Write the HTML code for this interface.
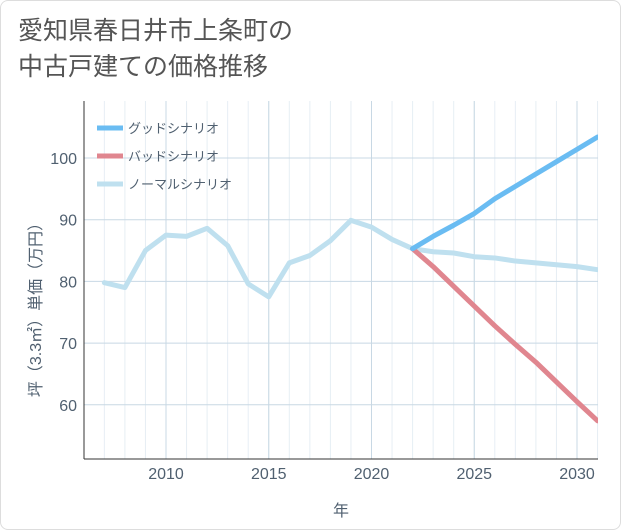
<!DOCTYPE html>
<html><head><meta charset="utf-8"><style>
body{margin:0;background:#fff;}
#wrap{position:relative;width:619px;height:528px;border:1px solid #ddd;border-radius:8px;overflow:hidden;background:#fff;font-family:"Liberation Sans","Noto Sans CJK JP",sans-serif;}
#title{position:absolute;left:17px;top:12px;font-size:25px;line-height:36px;color:#555;}
</style></head><body>
<div id="wrap">
<div id="title">愛知県春日井市上条町の<br>中古戸建ての価格推移</div>
<svg id="chart" width="621" height="530" style="position:absolute;left:0;top:0"></svg>
</div>
<script>
const years=[2007,2008,2009,2010,2011,2012,2013,2014,2015,2016,2017,2018,2019,2020,2021,2022,2023,2024,2025,2026,2027,2028,2029,2030,2031];
const normal=[79.8,79,85,87.5,87.3,88.6,85.8,79.6,77.5,83,84.2,86.6,89.9,88.8,86.8,85.3,84.8,84.6,84.0,83.8,83.3,83.0,82.7,82.4,81.9];
const futureYears=[2022,2023,2024,2025,2026,2027,2028,2029,2030,2031];
const good=[85.3,87.3,89.1,91,93.4,95.4,97.4,99.4,101.4,103.4];
const bad=[85.3,82.4,79.2,76.0,72.8,69.8,66.9,63.7,60.5,57.4];
const xTicks=[2010,2015,2020,2025,2030];
const yTicks=[60,70,80,90,100];
const ns="http://www.w3.org/2000/svg";
const svg=document.getElementById('chart');
const L=83,R=597,T=100,B=458;
const x=v=>165+(v-2010)*20.55;
const y=v=>157+(100-v)*6.17;
function mk(t,a){const e=document.createElementNS(ns,t);for(const k in a)e.setAttribute(k,a[k]);svg.appendChild(e);return e;}
for(let yr=2007;yr<=2031;yr++){const g=mk('line',{x1:x(yr),x2:x(yr),y1:T,y2:B,stroke:'#e6eef4','stroke-width':1});

}
xTicks.forEach(v=>{const g=mk('line',{x1:x(v),x2:x(v),y1:T,y2:B,stroke:'#c8d8e4','stroke-width':1});


const t=mk('text',{x:x(v),y:478,'text-anchor':'middle','font-size':16,fill:'#506070'});t.textContent=v;

});
yTicks.forEach(v=>{const g=mk('line',{x1:L,x2:R,y1:y(v),y2:y(v),stroke:'#c8d8e4','stroke-width':1});


const t=mk('text',{x:76,y:y(v)+6,'text-anchor':'end','font-size':16,fill:'#506070'});t.textContent=v;

});
const ax=mk('line',{x1:L,x2:L,y1:T,y2:B,stroke:'#333','stroke-width':1});


const ax2=mk('line',{x1:L,x2:R,y1:B,y2:B,stroke:'#333','stroke-width':1});


function line(xs,vs,c,name){const p=mk('polyline',{points:xs.map((v,i)=>x(v)+','+y(vs[i])).join(' '),fill:'none',stroke:c,'stroke-width':5,'stroke-linejoin':'round','stroke-linecap':'round','clip-path':'url(#clip)'});

}
const defs=mk('defs',{});const cp=document.createElementNS(ns,'clipPath');cp.setAttribute('id','clip');const cr=document.createElementNS(ns,'rect');cr.setAttribute('x',L);cr.setAttribute('y',T);cr.setAttribute('width',R-L);cr.setAttribute('height',B-T);cp.appendChild(cr);defs.appendChild(cp);
line(years,normal,'#bfe0ef','normal-scenario-line');
line(futureYears,bad,'#e0868f','bad-scenario-line');
line(futureYears,good,'#6abcf2','good-scenario-line');
[['グッドシナリオ','#6abcf2',127],['バッドシナリオ','#e0868f',155],['ノーマルシナリオ','#bfe0ef',183]].forEach(([n,c,yy])=>{
const l=mk('line',{x1:96,x2:122,y1:yy,y2:yy,stroke:c,'stroke-width':5});


const t=mk('text',{x:127,y:yy+5,'font-size':13,fill:'#506070'});t.textContent=n;

});
const xt=mk('text',{x:340,y:515,'text-anchor':'middle','font-size':16,fill:'#506070'});xt.textContent='年';


const yt=mk('text',{x:0,y:0,'text-anchor':'middle','font-size':16,fill:'#506070',transform:'translate(40,305) rotate(-90)'});yt.textContent='坪（3.3㎡）単価（万円）';


</script>
</body></html>
